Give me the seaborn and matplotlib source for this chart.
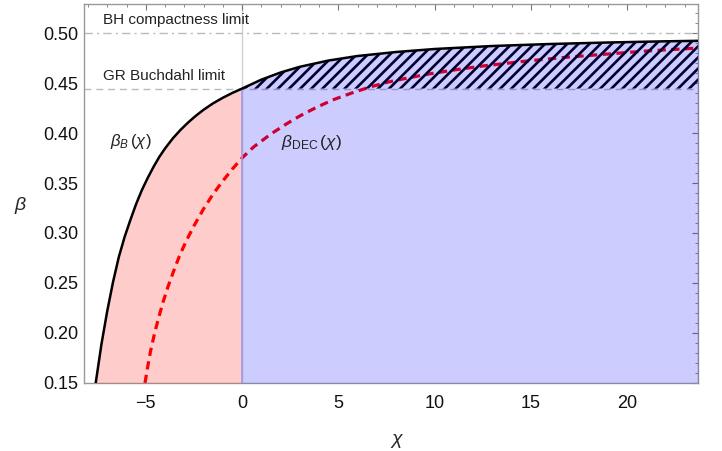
import numpy as np
import pandas as pd
import matplotlib
matplotlib.use("Agg")
import matplotlib.pyplot as plt
from matplotlib.ticker import MultipleLocator
import seaborn as sns

# beta_B(chi) - black solid curve
chi_B = [-7.6, -7.3, -7.0, -6.7, -6.4, -6.1, -5.8, -5.5, -5.2, -4.9, -4.6, -4.3, -4.0,
         -3.6, -3.2, -2.8, -2.4, -2.0, -1.5, -1.0, -0.5, 0.0,
         1.0, 2.0, 3.0, 4.5, 6.0, 8.0, 10.0, 13.0, 16.0, 19.0, 22.0, 23.7]
beta_B = [0.150, 0.189, 0.222, 0.251, 0.276, 0.296, 0.313, 0.329, 0.343, 0.355, 0.366,
          0.376, 0.3845, 0.3945, 0.403, 0.4105, 0.4172, 0.4232, 0.4297, 0.4352, 0.4401,
          0.4444, 0.4533, 0.4605, 0.4662, 0.4725, 0.4770, 0.4810, 0.4840, 0.4870, 0.4890,
          0.4905, 0.4917, 0.4922]

# beta_DEC(chi) - red dashed curve
chi_DEC = [-5.04, -4.9, -4.75, -4.55, -4.35, -4.1, -3.85, -3.55, -3.25, -2.9, -2.5, -2.0,
           -1.5, -1.0, -0.5, 0.0, 0.6, 1.5, 2.3, 3.0, 3.8, 4.7, 5.7, 6.65, 7.6, 8.6, 9.7,
           11.0, 12.5, 14.8, 17.0, 19.0, 21.0, 23.7]
beta_DEC = [0.150, 0.166, 0.182, 0.199, 0.214, 0.231, 0.246, 0.262, 0.277, 0.292, 0.307,
            0.324, 0.339, 0.352, 0.364, 0.375, 0.386, 0.399, 0.409, 0.417, 0.425, 0.433,
            0.440, 0.446, 0.451, 0.455, 0.459, 0.463, 0.467, 0.472, 0.476, 0.479, 0.482,
            0.485]

buchdahl = 4 / 9
bh_limit = 0.5

sns.set_theme(style="white")
plt.rcParams["font.family"] = ["Liberation Sans", "DejaVu Sans"]
plt.rcParams["mathtext.fontset"] = "custom"
plt.rcParams["mathtext.rm"] = "Liberation Sans"
plt.rcParams["mathtext.it"] = "Liberation Sans:italic"
plt.rcParams["hatch.linewidth"] = 1.9
plt.rcParams["hatch.color"] = "black"

fig = plt.figure(figsize=(7.22, 4.51), dpi=100)
ax = fig.add_axes([0.1163, 0.1508, 0.8505, 0.8403])

df_B = pd.DataFrame({"chi": chi_B, "beta": beta_B})
df_D = pd.DataFrame({"chi": chi_DEC, "beta": beta_DEC})
x = df_B["chi"].to_numpy()
y = df_B["beta"].to_numpy()

# reference lines
ax.axvline(0, color="#d0d0d0", lw=1.0, zorder=0.5)
ax.axhline(buchdahl, color="#bbbbbb", lw=1.0, ls=(0, (5, 3.5)), zorder=0.6)
ax.axhline(bh_limit, color="#bbbbbb", lw=1.0, ls=(0, (6, 3, 1.5, 3)), zorder=0.6)

# DEC curve (sits under the translucent fills)
sns.lineplot(data=df_D, x="chi", y="beta", color="red", lw=2.3,
             ls=(0, (2.6, 1.7)), ax=ax, zorder=2)

# hatched region between Buchdahl limit and beta_B for chi > 0
pos = x >= 0
ax.fill_between(x[pos], buchdahl, y[pos], facecolor="none", edgecolor="black",
                hatch="///", lw=0, zorder=2.2)

# translucent fills
ax.fill_between(x, 0.15, y, where=x <= 0, color="red", alpha=0.2, lw=0, zorder=3)
ax.fill_between(x, 0.15, y, where=x >= 0, color="blue", alpha=0.2, lw=0, zorder=3)
ax.plot([0, 0], [0.15, buchdahl], color="#9c9ce6", lw=1.2, zorder=3.1)

sns.lineplot(data=df_B, x="chi", y="beta", color="black", lw=1.8, ax=ax, zorder=4)

# labels
ax.text(-7.2, 0.513, "BH compactness limit", fontsize=11, va="center", color="#222222")
ax.text(-7.2, 0.457, "GR Buchdahl limit", fontsize=11, va="center", color="#222222")
ax.text(-6.85, 0.392, r"$\beta_B\,(\chi)$", fontsize=12, va="center", color="#222222")
ax.text(2.0, 0.391, r"$\beta_{\mathrm{DEC}}\,(\chi)$", fontsize=12.5, va="center",
        color="#222222")

ax.set_xlim(-8.21, 23.69)
ax.set_ylim(0.15, 0.529)
ax.xaxis.set_major_locator(MultipleLocator(5))
ax.xaxis.set_minor_locator(MultipleLocator(1))
ax.yaxis.set_major_locator(MultipleLocator(0.05))
ax.yaxis.set_minor_locator(MultipleLocator(0.01))
ax.yaxis.set_major_formatter(matplotlib.ticker.FormatStrFormatter("%.2f"))
ax.xaxis.set_major_formatter(matplotlib.ticker.FuncFormatter(
    lambda v, p: ("\u2212" + str(int(-v))) if v < 0 else str(int(v))))

ax.tick_params(which="both", direction="in", top=True, right=True, color="#777777",
               labelsize=13, labelcolor="#111111")
ax.tick_params(which="major", length=4.5, width=0.8)
ax.tick_params(which="minor", length=2.5, width=0.6)
ax.tick_params(axis="x", which="major", pad=9)
ax.tick_params(axis="y", which="major", pad=4)
for s in ax.spines.values():
    s.set_color("#999999")
    s.set_linewidth(1.0)

ax.set_xlabel(r"$\chi$", fontsize=14)
ax.set_ylabel(r"$\beta$", fontsize=14, rotation=0)
ax.xaxis.set_label_coords(0.51, -0.13)
ax.yaxis.set_label_coords(-0.104, 0.44)
ax.grid(False)

fig.savefig("out.png", dpi=100)
